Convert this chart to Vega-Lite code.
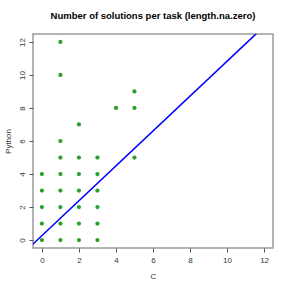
{
  "$schema": "https://vega.github.io/schema/vega-lite/v6.json",
  "width": 240,
  "height": 214,
  "autosize": {"type": "none"},
  "padding": {"left": 33, "top": 34, "right": 18, "bottom": 43},
  "background": "white",
  "config": {
    "font": "Liberation Sans",
    "view": {"stroke": "#9a9a9a", "strokeWidth": 1.5},
    "axis": {"grid": false, "domainColor": "#555", "tickColor": "#555", "labelColor": "#333", "labelFontSize": 8, "titleFontSize": 8, "titleFontWeight": "normal", "titleColor": "#333", "tickSize": 4, "labelOverlap": false, "labelFlush": false}
  },
  "title": {"text": "Number of solutions per task (length.na.zero)", "fontSize": 9.5, "fontWeight": "bold", "anchor": "middle", "offset": 14, "color": "#000"},
  "encoding": {
    "x": {"field": "C", "type": "quantitative", "scale": {"domain": [-0.48, 12.48], "nice": false, "zero": false}, "axis": {"values": [0, 2, 4, 6, 8, 10, 12], "tickCount": 7, "title": "C", "titlePadding": 8, "labelPadding": 4, "domain": false}},
    "y": {"field": "Python", "type": "quantitative", "scale": {"domain": [-0.48, 12.48], "nice": false, "zero": false}, "axis": {"values": [0, 2, 4, 6, 8, 10, 12], "tickCount": 7, "title": "Python", "labelAngle": -90, "labelAlign": "center", "labelBaseline": "bottom", "labelPadding": 3, "titlePadding": 6, "domain": false}}
  },
  "layer": [
    {
      "data": {"values": [
        {"C": 0, "Python": 0}, {"C": 0, "Python": 1}, {"C": 0, "Python": 2}, {"C": 0, "Python": 3}, {"C": 0, "Python": 4},
        {"C": 1, "Python": 0}, {"C": 1, "Python": 1}, {"C": 1, "Python": 2}, {"C": 1, "Python": 3}, {"C": 1, "Python": 4}, {"C": 1, "Python": 5}, {"C": 1, "Python": 6}, {"C": 1, "Python": 10}, {"C": 1, "Python": 12},
        {"C": 2, "Python": 0}, {"C": 2, "Python": 1}, {"C": 2, "Python": 2}, {"C": 2, "Python": 3}, {"C": 2, "Python": 4}, {"C": 2, "Python": 5}, {"C": 2, "Python": 7},
        {"C": 3, "Python": 0}, {"C": 3, "Python": 1}, {"C": 3, "Python": 2}, {"C": 3, "Python": 3}, {"C": 3, "Python": 4}, {"C": 3, "Python": 5},
        {"C": 4, "Python": 8},
        {"C": 5, "Python": 5}, {"C": 5, "Python": 8}, {"C": 5, "Python": 9}
      ]},
      "mark": {"type": "circle", "color": "#2ca02c", "opacity": 1, "size": 18}
    },
    {
      "data": {"values": [{"C": -1, "Python": -0.786}, {"C": 13, "Python": 14.0}]},
      "mark": {"type": "line", "color": "#0000ff", "strokeWidth": 1.6, "clip": true}
    }
  ]
}
